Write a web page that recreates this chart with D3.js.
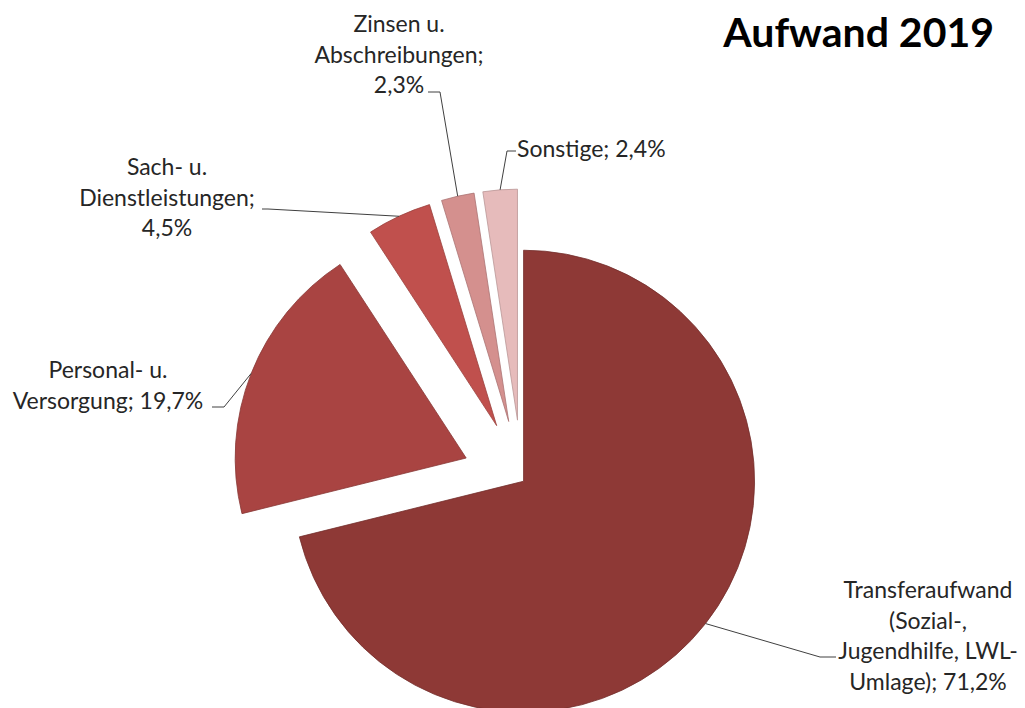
<!DOCTYPE html>
<html>
<head>
<meta charset="utf-8">
<script src="https://cdn.jsdelivr.net/npm/d3@7"></script>
<style>
  html, body { margin: 0; padding: 0; background: #fff; }
  svg { display: block; }
  .lbl { font-family: Lato, "Open Sans", sans-serif; font-size: 23px; fill: #262626; }
  .title { font-family: Lato, "Open Sans", sans-serif; font-size: 41px; font-weight: bold; fill: #000; }
</style>
</head>
<body>
<svg width="1025" height="708"></svg>
<script>
'use strict';

const categories = ["Transferaufwand", "Personal", "Sach", "Zinsen", "Sonstige"];
const values = [71.2, 19.7, 4.5, 2.3, 2.4];
const nameLines = [
    ["Transferaufwand", "(Sozial-,", "Jugendhilfe, LWL-", "Umlage);"],
    ["Personal- u.", "Versorgung;"],
    ["Sach- u.", "Dienstleistungen;"],
    ["Zinsen u.", "Abschreibungen;"],
    ["Sonstige;"]
];
const valueOwnLine = [false, false, true, true, false];
const colors = ["#8e3936", "#a94442", "#c0504d", "#d4908e", "#e6bbbb"];
const title = "Aufwand 2019";

const run = () => {
    const svg = d3.select("svg");
    const cx = 522, cy = 480, r = 231;
    const explode = [2, 60, 60, 60, 60];
    const lineH = 30.5;

    // label layout: centre x, first baseline, leader start + elbow
    const labelPos = [
        { x: 928, y: 598, start: [836, 657], elbow: [820, 657] },
        { x: 108, y: 378, start: [212, 407], elbow: [224, 407] },
        { x: 167, y: 175, start: [262, 209], elbow: [268, 209] },
        { x: 399, y: 32, start: [428, 92], elbow: [440, 92] },
        { x: 517, y: 157, start: [516, 151], elbow: [507, 151], anchor: "start" }
    ];

    const fmt = v => d3.format(".1f")(v).replace(".", ",") + "%";

    const pie = d3.pie().sort(null).value(d => d);
    const arcs = pie(values);
    const arc = d3.arc().innerRadius(0).outerRadius(r);
    const rim = d3.arc().innerRadius(r).outerRadius(r);

    const offset = (d, i) => {
        const a = (d.startAngle + d.endAngle) / 2;
        return [cx + explode[i] * Math.sin(a), cy - explode[i] * Math.cos(a)];
    };

    const g = svg.append("g");
    g.selectAll("path.slice")
        .data(arcs)
        .join("path")
        .attr("class", "slice")
        .attr("transform", (d, i) => `translate(${offset(d, i)})`)
        .attr("d", arc)
        .attr("fill", (d, i) => colors[i])
        .attr("stroke", (d, i) => d3.color(colors[i]).darker(0.6))
        .attr("stroke-width", 0.8)
        .attr("stroke-linejoin", "round");

    // leader lines
    g.selectAll("polyline.leader")
        .data(arcs)
        .join("polyline")
        .attr("class", "leader")
        .attr("points", (d, i) => {
            const o = offset(d, i), c = rim.centroid(d);
            const p = labelPos[i];
            return [p.start, p.elbow, [o[0] + c[0], o[1] + c[1]]].map(q => q.join(",")).join(" ");
        })
        .attr("fill", "none")
        .attr("stroke", "#404040")
        .attr("stroke-width", 1);

    // labels
    arcs.forEach((d, i) => {
        const lines = nameLines[i].slice();
        if (valueOwnLine[i]) lines.push(fmt(values[i]));
        else lines[lines.length - 1] += " " + fmt(values[i]);
        const p = labelPos[i];
        const t = svg.append("text")
            .attr("class", "lbl")
            .attr("text-anchor", p.anchor || "middle");
        lines.forEach((s, k) => {
            t.append("tspan").attr("x", p.x).attr("y", p.y + k * lineH).text(s);
        });
    });

    svg.append("text")
        .attr("class", "title")
        .attr("x", 994)
        .attr("y", 47)
        .attr("text-anchor", "end")
        .text(title);
};

run();
</script>
</body>
</html>
